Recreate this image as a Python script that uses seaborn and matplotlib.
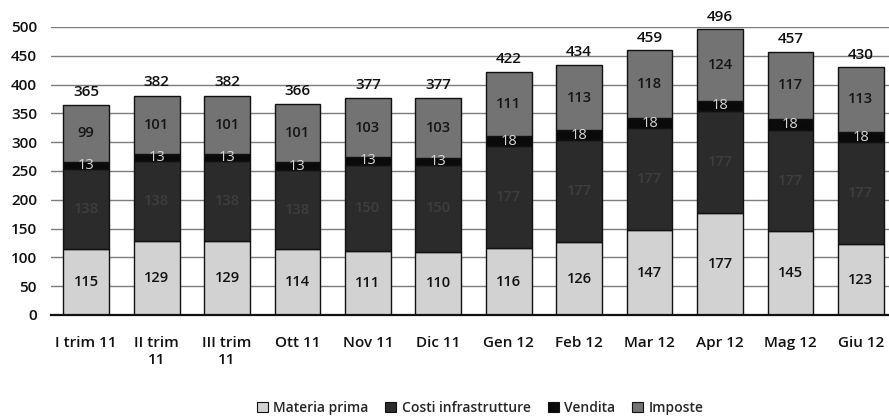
import numpy as np
import pandas as pd
import matplotlib
matplotlib.use("Agg")
import matplotlib.pyplot as plt
import seaborn as sns
from matplotlib.patches import Patch

# ---------------------------------------------------------------------------
# Data
# ---------------------------------------------------------------------------
periods = ["I trim 11", "II trim\n11", "III trim\n11", "Ott 11", "Nov 11", "Dic 11",
           "Gen 12", "Feb 12", "Mar 12", "Apr 12", "Mag 12", "Giu 12"]
materia_prima = [115, 129, 129, 114, 111, 110, 116, 126, 147, 177, 145, 123]
costi_infra = [138, 138, 138, 138, 150, 150, 177, 177, 177, 177, 177, 177]
vendita = [13, 13, 13, 13, 13, 13, 18, 18, 18, 18, 18, 18]
imposte = [99, 101, 101, 101, 103, 103, 111, 113, 118, 124, 117, 113]
totals = [365, 382, 382, 366, 377, 377, 422, 434, 459, 496, 457, 430]

series_names = ["Materia prima", "Costi infrastrutture", "Vendita", "Imposte"]
series_vals = [materia_prima, costi_infra, vendita, imposte]
colors = ["#d2d2d2", "#2b2b2b", "#0a0a0a", "#737373"]
label_colors = ["#111111", "#3e3e3e", "#d8d8d8", "#151515"]

rows = []
for name, vals in zip(series_names, series_vals):
    for p, v in zip(periods, vals):
        rows.append({"period": p, "serie": name, "value": v})
df = pd.DataFrame(rows)

sns.set_style("white")
plt.rcParams["font.family"] = ["Open Sans", "DejaVu Sans"]
W = "semibold"

fig = plt.figure(figsize=(8.89, 4.16), dpi=100)
ax = fig.add_axes([51 / 889, 1 - 315 / 416, 838 / 889, 288 / 416])

bottom = np.zeros(len(periods))
for name, col, lcol, vals in zip(series_names, colors, label_colors, series_vals):
    sub = df[df["serie"] == name]
    sns.barplot(data=sub, x="period", y="value", color=col, width=0.65,
                edgecolor="#111111", linewidth=1.0, ax=ax, zorder=3,
                bottom=bottom, saturation=1)
    vals = np.array(vals)
    for i, v in enumerate(vals):
        ax.text(i, bottom[i] + v / 2, str(v), ha="center", va="center", fontsize=10.5,
                color=lcol, fontweight=W if name != "Vendita" else "normal",
                zorder=5)
    bottom = bottom + vals

for i, t in enumerate(totals):
    ax.text(i, t + 10, str(t), ha="center", va="bottom", fontsize=11,
            color="#111111", fontweight=W, zorder=1, clip_on=False)

ax.set_xlim(-0.5, 11.4)
ax.set_ylim(0, 500)
ax.set_yticks(range(0, 501, 50))
ax.yaxis.grid(True, color="#7c7c7c", linewidth=1.0, zorder=0)
ax.set_axisbelow(True)
for s in ["left", "right", "top"]:
    ax.spines[s].set_visible(False)
ax.spines["bottom"].set_color("#111111")
ax.spines["bottom"].set_linewidth(1.6)
ax.spines["bottom"].set_zorder(6)

ax.set_xlabel("")
ax.set_ylabel("")
ax.set_xticks(range(len(periods)))
ax.set_xticklabels(periods, fontsize=11, color="#111111", va="top", ha="center",
                   linespacing=1.3, fontweight=W)
ax.set_xticks(np.arange(-0.5, 11.5, 1), minor=True)
ax.tick_params(axis="x", which="major", length=0, pad=15)
ax.tick_params(axis="x", which="minor", length=5, width=1.4, color="#111111",
               direction="out")
ax.tick_params(axis="y", length=0, labelsize=11, labelcolor="#111111", pad=10)
for lab in ax.get_yticklabels():
    lab.set_fontweight(W)

handles = [Patch(facecolor=c, edgecolor="#111111", linewidth=0.8) for c in colors]
fig.legend(handles, series_names, loc="center", bbox_to_anchor=(0.54, 0.02),
           ncol=4, frameon=False, prop={"size": 10, "weight": W},
           handlelength=0.8, handleheight=0.8, columnspacing=1.2, handletextpad=0.4)

fig.savefig("out.png", dpi=100)
plt.close()
